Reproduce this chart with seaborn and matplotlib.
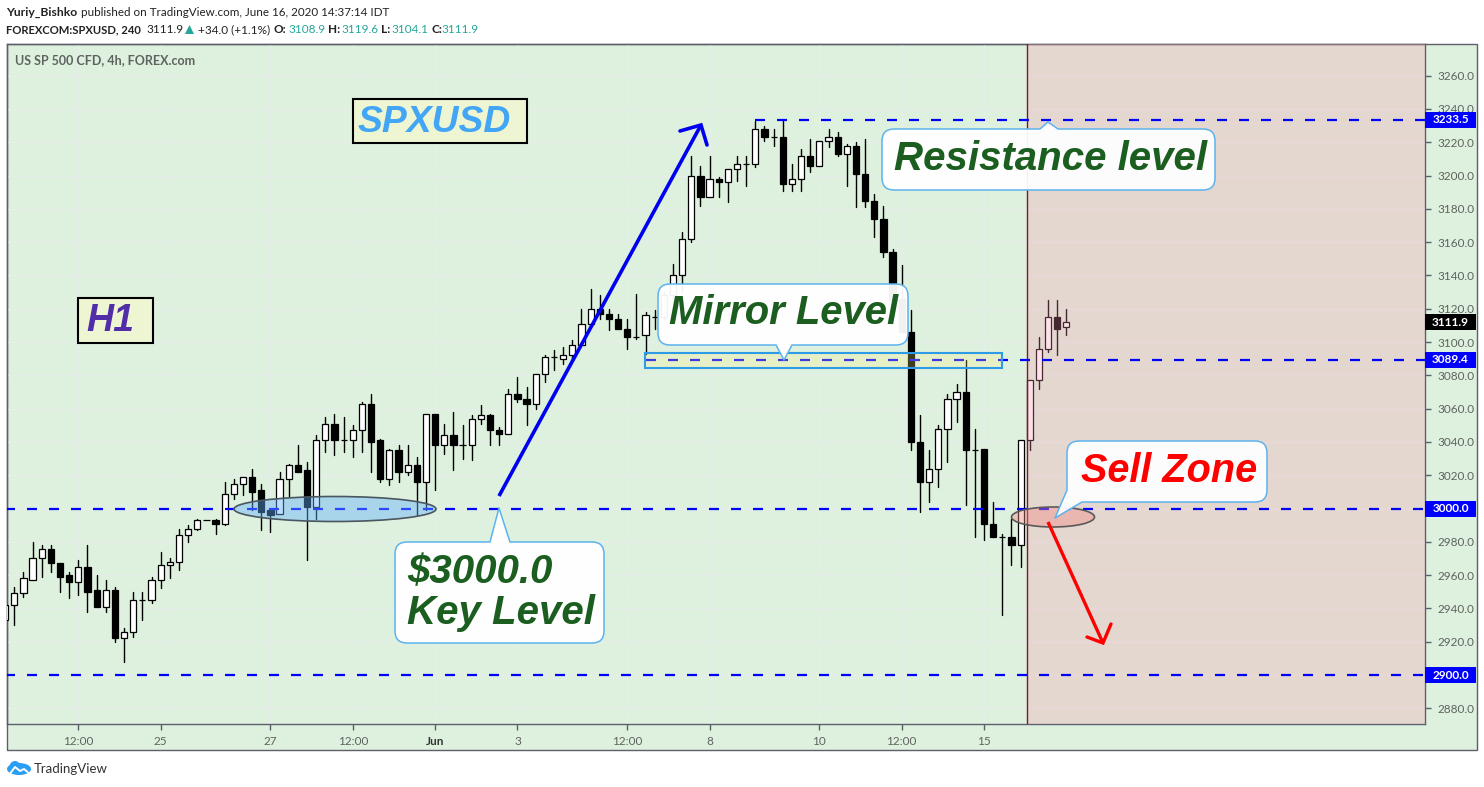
import matplotlib

matplotlib.use("Agg")
import matplotlib.pyplot as plt
import pandas as pd
import seaborn as sns
from matplotlib.patches import Ellipse, FancyBboxPatch, PathPatch, Polygon, Rectangle
from matplotlib.path import Path

W, H = 1484, 787

opens = [2933, 2942, 2949, 2957, 2970, 2976, 2967, 2960, 2956, 2965, 2951, 2941, 2951, 2922, 2926, 2945, 2945, 2957, 2966, 2968,
         2984, 2988, 2993, 2993, 2991, 3009, 3015, 3019, 3011, 2999, 2997, 3018, 3026, 3023, 3001, 3041, 3051, 3041, 3041, 3047,
         3063, 3041, 3018, 3035, 3022, 3026, 3016, 3057, 3038, 3044, 3038, 3038, 3054, 3056, 3047, 3045, 3069, 3066, 3063, 3081,
         3091, 3090, 3092, 3098, 3111, 3120, 3117, 3114, 3108, 3103, 3104, 3115, 3115, 3128, 3140, 3162, 3200, 3187, 3198, 3196,
         3204, 3207, 3207, 3228, 3223, 3223, 3195, 3198, 3212, 3206, 3221, 3223, 3213, 3218, 3201, 3185, 3174, 3154, 3126, 3106,
         3040, 3016, 3024, 3048, 3066, 3070, 3035, 3036, 2991, 2983, 2983, 2978, 3041, 3077, 3096, 3115, 3108.9]
highs = [2945, 2953, 2962, 2980, 2978, 2978, 2967, 2962, 2969, 2978, 2960, 2957, 2953, 2928, 2950, 2950, 2959, 2974, 2970, 2988,
         2990, 2994, 2993, 2994, 3016, 3018, 3019, 3024, 3015, 2999, 3022, 3027, 3038, 3028, 3044, 3055, 3057, 3055, 3050, 3064,
         3069, 3042, 3036, 3038, 3038, 3031, 3057, 3057, 3051, 3058, 3050, 3056, 3062, 3057, 3049, 3072, 3079, 3073, 3081, 3092,
         3095, 3097, 3101, 3120, 3132, 3128, 3120, 3117, 3114, 3129, 3118, 3119, 3130, 3147, 3166, 3212, 3206, 3212, 3199, 3204,
         3212, 3212, 3233, 3230, 3228, 3233, 3207, 3216, 3222, 3221, 3228, 3226, 3219, 3220, 3222, 3189, 3182, 3156, 3146, 3119,
         3056, 3035, 3050, 3069, 3075, 3089, 3048, 3036, 3004, 2985, 2994, 3041, 3077, 3103, 3125, 3125, 3119.6]
lows = [2926, 2930, 2947, 2957, 2959, 2962, 2950, 2946, 2948, 2938, 2941, 2938, 2920, 2908, 2923, 2933, 2943, 2952, 2958, 2963,
        2980, 2987, 2993, 2985, 2990, 3006, 3008, 2999, 2987, 2986, 2997, 3007, 3022, 2969, 2994, 3034, 3032, 3034, 3031, 3034,
        3022, 3016, 3014, 3016, 3020, 2996, 2999, 3011, 3033, 3023, 3030, 3029, 3051, 3038, 3038, 3045, 3064, 3050, 3060, 3076,
        3083, 3087, 3090, 3098, 3111, 3114, 3107, 3108, 3096, 3102, 3093, 3108, 3113, 3124, 3130, 3160, 3182, 3187, 3187, 3184,
        3197, 3194, 3205, 3221, 3218, 3191, 3191, 3191, 3202, 3206, 3217, 3212, 3194, 3181, 3181, 3163, 3151, 3125, 3106, 3035,
        2998, 3004, 3013, 3028, 3052, 3002, 2983, 2981, 2983, 2936, 2966, 2965, 3035, 3072, 3094, 3092, 3104.1]
closes = [2942, 2949, 2958, 2970, 2976, 2967, 2959, 2956, 2965, 2950, 2941, 2951, 2922, 2926, 2945, 2945, 2957, 2966, 2968, 2984,
          2988, 2993, 2993, 2991, 3009, 3015, 3019, 3010, 2998, 2996, 3018, 3026, 3022, 3001, 3041, 3051, 3041, 3041, 3047, 3063,
          3040, 3018, 3035, 3022, 3026, 3016, 3057, 3038, 3044, 3038, 3038, 3054, 3056, 3047, 3045, 3069, 3066, 3063, 3081, 3091,
          3091, 3092, 3098, 3111, 3120, 3117, 3114, 3108, 3103, 3103, 3116, 3115, 3128, 3140, 3162, 3200, 3187, 3198, 3196, 3204,
          3207, 3207, 3228, 3223, 3223, 3195, 3198, 3212, 3206, 3221, 3223, 3213, 3218, 3201, 3185, 3174, 3154, 3125, 3106, 3040,
          3016, 3024, 3048, 3066, 3070, 3035, 3035, 2991, 2983, 2983, 2978, 3041, 3077, 3096, 3115, 3108, 3111.9]

level_values = [3233.5, 3089.4, 3000.0, 2900.0]
level_starts = [82, 70, 0, 0]
last_price = 3111.9
price_ticks = list(range(2880, 3261, 20))
date_positions = [8, 17, 29, 38, 47, 56, 68, 77, 89, 98, 107]
date_labels = ["12:00", "25", "27", "12:00", "Jun", "3", "12:00", "8", "10", "12:00", "15"]
sell_start = 111.7

GREEN = "#DEF0DE"
LINE = "#5D606B"
GRID = "#E6EEEA"
TEXT = "#5F6360"
TEAL = "#26A69A"
DARK_GREEN = "#1B5E20"
BLUE = "#0000F0"
EDGE = "#5CB3EE"

sns.set_theme(style="white", rc={"axes.linewidth": 1.0})
plt.rcParams["font.family"] = ["Lato", "DejaVu Sans"]

fig = plt.figure(figsize=(W / 100, H / 100), dpi=100, facecolor="white")


def pixel_axes(zorder):
    a = fig.add_axes([0, 0, 1, 1], zorder=zorder)
    a.set_xlim(0, W)
    a.set_ylim(H, 0)
    a.axis("off")
    a.patch.set_alpha(0)
    return a


back = pixel_axes(0)
back.add_patch(Rectangle((6.5, 43.5), 1470, 706.5, fc=GREEN, ec=LINE, lw=1))

ax = fig.add_axes([6.5 / W, 1 - 723.5 / H, 1418.5 / W, 680 / H], zorder=1)
ax.patch.set_alpha(0)
ax.set_xlim(0.15, 155.2)
ax.set_ylim(2870.9, 3279.3)
for s in ax.spines.values():
    s.set_color(LINE)

ax.yaxis.tick_right()
# tick labels under the level boxes stay blank
ax.set_yticks(price_ticks, ["" if p in level_values else f"{p:.1f}" for p in price_ticks])
ax.set_xticks(date_positions, date_labels)
ax.tick_params(axis="both", length=4, width=1, color=LINE, labelcolor=TEXT, labelsize=8.5, pad=5, bottom=True, right=True)
ax.tick_params(axis="x", pad=5)
for tick in ax.get_xticklabels():
    if tick.get_text() == "Jun":
        tick.set_color("#333333")
        tick.set_fontweight("bold")
ax.grid(True, color=GRID, lw=1)
ax.set_axisbelow(True)

df = pd.DataFrame({"open": opens, "high": highs, "low": lows, "close": closes})
df["candle"] = df.index
wicks = df.melt(id_vars="candle", value_vars=["high", "low"], value_name="price")
sns.lineplot(data=wicks, x="candle", y="price", units="candle", estimator=None, color="black", lw=1.0, ax=ax, legend=False, zorder=2)
ax.set_xlabel("")
ax.set_ylabel("")

body_low = df[["open", "close"]].min(axis=1)
body_high = df[["open", "close"]].max(axis=1)
body_color = ["white" if c > o else "black" for o, c in zip(opens, closes)]
ax.bar(df["candle"], body_high - body_low, bottom=body_low, width=0.68, color=body_color, edgecolor="black", lw=0.9, zorder=3)

ax.axvspan(sell_start, 155.2, color=(0.96, 0.6, 0.68), alpha=0.28, lw=0, zorder=4)
ax.axvline(sell_start, color="#8A1030", lw=1, zorder=5)

ax.hlines(level_values, level_starts, 155.2, colors="#0000FF", lw=1.6, linestyles=(0, (4.5, 5.4)), zorder=5)

trans = ax.get_yaxis_transform()
for value, color in zip(level_values + [last_price], ["#0000FF"] * 4 + ["black"]):
    ax.add_patch(Rectangle((1.0, value - 4.8), 51 / 1418.5, 9.6, transform=trans, fc=color, ec="none", clip_on=False, zorder=6))
    ax.text(1 + 25.5 / 1418.5, value, f"{value:.1f}", transform=trans, color="white", fontsize=8.5, fontweight="bold",
            ha="center", va="center", clip_on=False, zorder=7)

top = pixel_axes(2)

# annotations, in screen pixels
top.add_patch(Ellipse((335, 509), 202, 25, fc=(0.38, 0.69, 1.0, 0.42), ec="#4A5660", lw=1.2))
top.add_patch(Ellipse((1053, 517), 83, 20, fc=(0.95, 0.53, 0.5, 0.4), ec="#5A5A5A", lw=1.2))
top.add_patch(Rectangle((645, 353), 357, 15, fc=(1.0, 0.94, 0.51, 0.25), ec="#2E9BE6", lw=1.5))

top.plot([499, 701], [496, 125], color=BLUE, lw=2.6, solid_capstyle="butt")
top.plot([680, 701, 707], [131, 125, 145], color=BLUE, lw=2.6, solid_joinstyle="miter")
top.plot([1048, 1103], [522, 643], color="#FF0000", lw=2.4, solid_capstyle="butt")
top.plot([1087, 1103, 1111], [637, 643, 624], color="#FF0000", lw=2.4, solid_joinstyle="miter")


def callout(x0, y0, x1, y1, upper=(), lower=(), corner=None):
    r = 12
    verts = [(x0 + r, y0)]
    codes = [Path.MOVETO]
    for p in upper:
        verts.append(p)
        codes.append(Path.LINETO)
    verts += [(x1 - r, y0), (x1, y0), (x1, y0 + r), (x1, y1 - r), (x1, y1), (x1 - r, y1)]
    codes += [Path.LINETO, Path.CURVE3, Path.CURVE3, Path.LINETO, Path.CURVE3, Path.CURVE3]
    for p in lower:
        verts.append(p)
        codes.append(Path.LINETO)
    if corner:
        for p in corner:
            verts.append(p)
            codes.append(Path.LINETO)
    else:
        verts += [(x0 + r, y1), (x0, y1), (x0, y1 - r)]
        codes += [Path.LINETO, Path.CURVE3, Path.CURVE3]
    verts += [(x0, y0 + r), (x0, y0), (x0 + r, y0)]
    codes += [Path.LINETO, Path.CURVE3, Path.CURVE3]
    top.add_patch(PathPatch(Path(verts, codes), fc=(1, 1, 1, 0.95), ec=EDGE, lw=1.1, joinstyle="round"))


LABEL = dict(family="Liberation Sans", fontweight="bold", fontstyle="italic")

callout(882, 129, 1215, 190, upper=[(1040, 129), (1048, 122), (1058, 129)])
top.text(1050, 159.5, "Resistance level", color=DARK_GREEN, fontsize=29, ha="center", va="center", **LABEL)
callout(658, 284, 908, 345, lower=[(792, 345), (784, 360), (776, 345)])
top.text(784, 313.5, "Mirror Level", color=DARK_GREEN, fontsize=28.8, ha="center", va="center", **LABEL)
callout(395, 542, 604, 643, upper=[(490, 542), (499, 508), (510, 542)])
top.text(407, 572, "$3000.0", color=DARK_GREEN, fontsize=29, ha="left", va="center", **LABEL)
top.text(407, 613, "Key Level", color=DARK_GREEN, fontsize=29, ha="left", va="center", **LABEL)
callout(1067, 441, 1267, 502, corner=[(1082, 502), (1055, 518), (1067, 490)])
top.text(1169, 470.5, "Sell Zone", color="#FF0000", fontsize=28.5, ha="center", va="center", **LABEL)

top.add_patch(FancyBboxPatch((353, 99), 174, 44, boxstyle="square,pad=0", fc="#EEF5D2", ec="black", lw=1.5))
top.text(434, 122, "SPXUSD", color="#42A5F5", fontsize=26.8, ha="center", va="center", **LABEL)
top.add_patch(FancyBboxPatch((78, 298), 75, 45, boxstyle="square,pad=0", fc="#EEF5D2", ec="black", lw=1.5))
top.text(110, 321, "H1", color="#512DA8", fontsize=27, ha="center", va="center", **LABEL)

# header
HEAD = dict(va="center", color="#222222")
top.text(6, 12.5, "Yuriy_Bishko", fontsize=8.7, fontweight="bold", **HEAD)
top.text(81, 12.5, "published on TradingView.com, June 16, 2020 14:37:14 IDT", fontsize=8.4, **HEAD)
top.text(6, 29.5, "FOREXCOM:SPXUSD, 240", fontsize=8.1, fontweight="bold", **HEAD)
top.text(146, 29.5, "3111.9", fontsize=8.5, **HEAD)
top.add_patch(Polygon([(185, 34), (194, 34), (189.5, 25)], fc=TEAL, ec="none"))
top.text(198, 29.5, "+34.0 (+1.1%)", fontsize=8.5, **HEAD)
for x, label in zip([274, 328, 381, 431], ["O:", "H:", "L:", "C:"]):
    top.text(x, 29.5, label, fontsize=8.5, fontweight="bold", **HEAD)
for x, value in zip([288, 341, 391, 441], ["3108.9", "3119.6", "3104.1", "3111.9"]):
    top.text(x, 29.5, value, fontsize=8.5, va="center", color=TEAL)
top.text(15, 60, "US SP 500 CFD, 4h, FOREX.com", fontsize=9, va="center", color="#5F6360", fontweight="bold")

# footer logo
top.add_patch(Ellipse((19, 769), 24, 12, fc="#2A9DF4", ec="none"))
top.add_patch(Ellipse((15, 767), 11, 12, fc="#2A9DF4", ec="none"))
top.plot([9, 15, 20, 24, 31], [775, 767, 771, 769, 775], color="white", lw=1.4)
top.text(34, 769, "TradingView", fontsize=9.5, va="center", color="#333333")

fig.savefig("out.png", dpi=100)
